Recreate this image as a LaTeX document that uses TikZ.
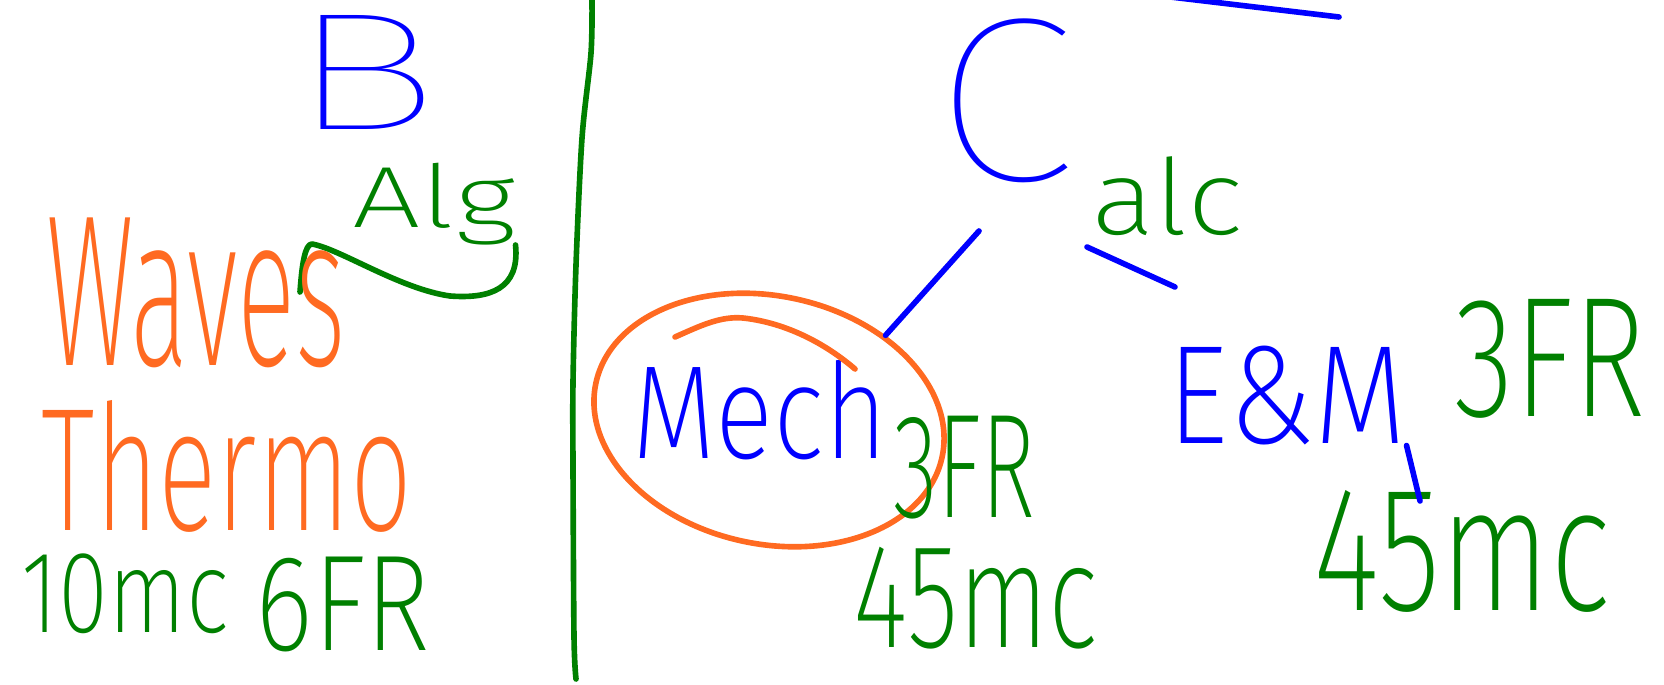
\documentclass[tikz,border=0pt]{standalone}
\usepackage{graphicx}
\usepackage{xcolor}
\usepackage{fontspec}
\usepackage{tikz}
\usetikzlibrary{shapes.geometric}
\newfontfamily\handfont{Fira Sans ExtraLight}
\newfontfamily\thinhand{Fira Sans Thin}
\definecolor{penblue}{RGB}{0,0,255}
\definecolor{pengreen}{RGB}{0,128,0}
\definecolor{penorange}{RGB}{255,106,33}
\newcommand{\scrawl}[3]{\resizebox*{#1cm}{#2cm}{\handfont #3}}
\newcommand{\bigscrawl}[3]{\resizebox*{#1cm}{#2cm}{\thinhand #3}}

\begin{document}
\begin{tikzpicture}[
  pen/.style={line width=1.6pt, line cap=round, line join=round},
  word/.style={inner sep=0pt, outer sep=0pt},
  ring/.style={ellipse, draw=penorange, pen, inner sep=0pt}
]
\useasboundingbox (0,0) rectangle (16.64,6.84);
%\draw[step=0.5cm,gray,very thin] (0,0) grid (16.5,6.5);
% divider
\draw[pen,pengreen] plot[smooth] coordinates {(5.92,6.84) (5.91,6.31) (5.82,5.46) (5.76,4.19) (5.73,3.02) (5.73,2.17) (5.74,0.47) (5.76,0.05)};
% left side
\node[word,penblue] (bnode) at (3.65,6.12) {\bigscrawl{1.5}{1.14}{B}};
\node[word,pengreen] (alg) at (4.34,4.80) {\scrawl{1.63}{0.82}{Alg}};
\draw[pen,pengreen] (alg.south east) .. controls (5.2,3.95) and (4.9,3.85) .. (4.5,3.88) .. controls (4.0,3.95) and (3.4,4.35) .. (3.12,4.40) .. controls (3.05,4.40) and (3.02,4.2) .. (3.00,3.92);
\node[word,penorange] (waves) at (1.96,3.91) {\scrawl{3.0}{1.50}{Waves}};
\node[word,penorange] (thermo) at (2.27,2.18) {\scrawl{3.7}{1.32}{Thermo}};
\node[word,pengreen] (thermomc) at (1.25,0.90) {\scrawl{2.07}{0.80}{10mc}};
\node[word,pengreen] (thermofr) at (3.43,0.80) {\scrawl{1.75}{0.95}{6FR}};
% right side
\node[word,penblue] (calc) at (10.04,5.83) {\bigscrawl{1.40}{1.64}{C}};
\node[word,pengreen] (calcrest) at (11.67,4.88) {\scrawl{1.51}{0.79}{alc}};
\coordinate (topleft) at (11.62,6.88);
\coordinate (topright) at (13.39,6.67);
\draw[pen,penblue] (topleft) -- (topright);
\node[word,penblue] (mech) at (7.60,2.74) {\scrawl{2.55}{1.0}{Mech}};
\node[ring,rotate=-12,minimum width=3.54cm,minimum height=2.48cm] (mechring) at (7.69,2.64) {};
\draw[pen,penorange] (6.75,3.47) .. controls (7.0,3.58) and (7.2,3.68) .. (7.43,3.66) .. controls (7.8,3.62) and (8.2,3.45) .. (8.55,3.15);
\node[word,pengreen] (mechfr) at (9.64,2.16) {\scrawl{1.42}{1.03}{3FR}};
\node[word,pengreen] (mechmc) at (9.76,0.86) {\scrawl{2.44}{1.02}{45mc}};
\coordinate (calcfoot) at (9.79,4.53);
\draw[pen,penblue] (calcfoot) -- (mechring.48);
\node[word,penblue] (em) at (12.87,2.88) {\scrawl{2.39}{0.99}{E\&M}};
\node[word,pengreen] (emfr) at (15.50,3.25) {\scrawl{1.91}{1.19}{3FR}};
\node[word,pengreen] (emmc) at (14.62,1.33) {\scrawl{2.97}{1.22}{45mc}};
\coordinate (calcspur) at (10.87,4.37);
\coordinate (emtop) at (11.75,3.97);
\draw[pen,penblue] (calcspur) -- (emtop);
\coordinate (emleg) at (14.20,1.83);
\draw[pen,penblue] (em.south east) -- (emleg);
\end{tikzpicture}
\end{document}
